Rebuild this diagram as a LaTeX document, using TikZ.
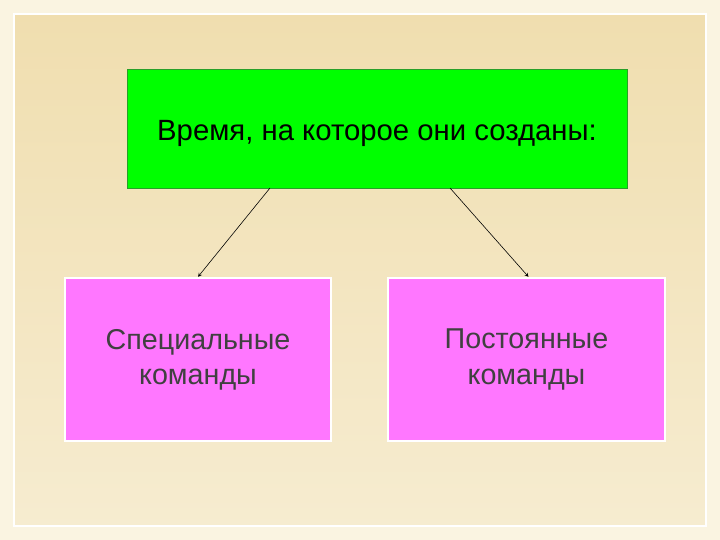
\documentclass[tikz,border=0pt]{standalone}
\usepackage{fontspec}
\setmainfont{Liberation Sans}
\definecolor{bgout}{RGB}{250,244,225}
\definecolor{bgtop}{RGB}{240,222,175}
\definecolor{bgbot}{RGB}{246,236,208}
\definecolor{gbord}{RGB}{40,160,40}
\definecolor{gfill}{RGB}{0,255,0}
\definecolor{pfill}{RGB}{255,119,255}
\begin{document}
\begin{tikzpicture}[x=0.03cm,y=-0.03cm,
  box/.style={draw=#1,line width=0.6pt,inner sep=0pt},
  lbl/.style={font=\fontsize{24.5}{30}\selectfont,align=center,text=black!75},
  arr/.style={-stealth,line width=0.5pt}]
\useasboundingbox (0,0) rectangle (720,540);
\fill[bgout] (0,0) rectangle (720,540);
\shade[top color=bgtop,bottom color=bgbot] (14,14) rectangle (706,526);
\draw[white,line width=1pt] (14,14) rectangle (706,526);
\node[box=gbord,fill=gfill,minimum width=500*0.03cm,minimum height=119*0.03cm] (top) at (377,128.5) {};
\node[font=\fontsize{25}{30}\selectfont] (tt) at (377,133) {Время, на которое они созданы:};
\node[box=white,line width=2pt,fill=pfill,minimum width=266*0.03cm,minimum height=163*0.03cm,lbl] (l) at (198,359.5) {Специальные\\команды};
\node[box=white,line width=2pt,fill=pfill,minimum width=277*0.03cm,minimum height=163*0.03cm,lbl] (r) at (526.5,359.5) {Постоянные\\команды};
\coordinate (a1) at (270,188); \coordinate (a2) at (450,188);
\draw[arr] (a1) -- (l.north);
\draw[arr] (a2) -- ([xshift=2*0.03cm]r.north);
\end{tikzpicture}
\end{document}
